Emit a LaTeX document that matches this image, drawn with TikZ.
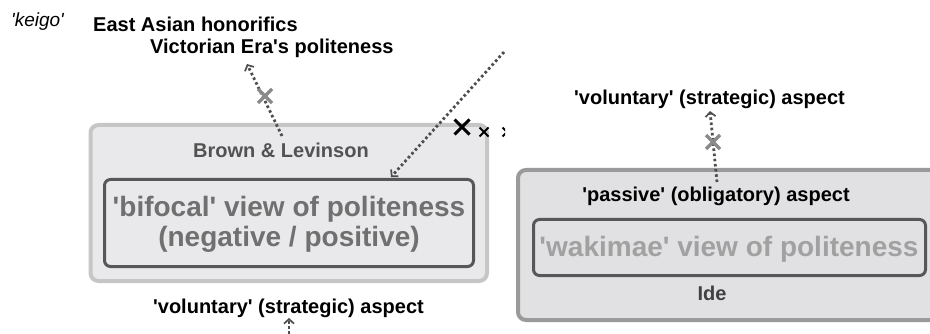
\documentclass[tikz,border=0pt]{standalone}
\usepackage{fontspec}
\setmainfont{Liberation Sans}
\usetikzlibrary{arrows.meta}

\definecolor{leftfill}{HTML}{E9E9EB}
\definecolor{leftline}{HTML}{C6C6C6}
\definecolor{rightfill}{HTML}{E1E1E3}
\definecolor{rightline}{HTML}{9A9A9A}
\definecolor{innerline}{HTML}{575757}
\definecolor{dotgray}{HTML}{4E4E4E}
\definecolor{crossgray}{HTML}{8A8A8A}
\newcommand\q{\textquotesingle}

\begin{document}
\begin{tikzpicture}[x=1pt,y=-1pt,
  outerbox/.style={draw,line width=4pt,rounded corners=8pt,inner sep=0pt},
  innerbox/.style={draw=innerline,line width=3pt,rounded corners=6pt,inner sep=0pt},
  tag/.style={font=\fontsize{20}{24}\selectfont\bfseries,inner sep=0pt,anchor=base},
  bigtag/.style={font=\fontsize{28}{30}\selectfont\bfseries,align=center,inner sep=0pt},
  dots/.style={draw=dotgray,line width=2.8pt,dash pattern=on 2.6pt off 2.6pt,
    -{Straight Barb[length=4.5pt,width=10pt,line width=1.7pt]}},
  graycross/.style={draw=crossgray,line width=3.5pt},
  blackcross/.style={draw=black,line width=3pt}
]
  \useasboundingbox (0,0) rectangle (930,334);
  \clip (0,0) rectangle (930,334);

  % Brown & Levinson side
  \node[outerbox,draw=leftline,fill=leftfill,minimum width=396.5pt,minimum height=156pt] (bl) at (288.75,203) {};
  \node[innerbox,minimum width=369pt,minimum height=87pt] (bifocal) at (289,223) {};
  \node[bigtag,text=black!56] (bifocaltxt) at (289,224.5) {\q bifocal\q{} view of politeness\\(negative / positive)};
  \node[tag,text=black!68] (brown) at (281,158) {Brown \& Levinson};
  \node[tag] (volleft) at (288.5,313) {\q voluntary\q{} (strategic) aspect};

  % Ide side
  \node[outerbox,draw=rightline,fill=rightfill,minimum width=462pt,minimum height=150pt] (ide) at (749,245) {};
  \node[innerbox,minimum width=392pt,minimum height=56pt] (wakimae) at (729.5,247.5) {};
  \node[tag,font=\fontsize{28}{30}\selectfont\bfseries,text=black!37] (wakimaetxt) at (729,257) {\q wakimae\q{} view of politeness};
  \node[tag] (passive) at (716,202) {\q passive\q{} (obligatory) aspect};
  \node[tag,text=black!75] (idetxt) at (712,300) {Ide};
  \node[tag] (volright) at (709.5,105) {\q voluntary\q{} (strategic) aspect};

  % top left labels
  \node[tag,font=\fontsize{19}{20}\selectfont\itshape] (keigo) at (37.5,27) {\q keigo\q};
  \node[tag,anchor=base west] (eastasia) at (93,32) {East Asian honorifics};
  \node[tag,anchor=base west] (victorian) at (150,54) {Victorian Era\q s politeness};

  \coordinate (vicend) at (247,64);
  \coordinate (brownstart) at (282,136);
  \coordinate (farstart) at (504,52);
  \coordinate (bifocaltop) at (391,177);
  \coordinate (passivestart) at (717,182);
  \coordinate (volrightend) at (710,111);
  \coordinate (bottomstart) at (289,334);
  \coordinate (volleftend) at (289,318);

  \draw[dots] (brownstart) -- (vicend);
  \draw[dots] (passivestart) -- (volrightend);
  \draw[dots] (bottomstart) -- (volleftend);
  \begin{scope}
    \clip (0,0) rectangle (505,334);
    \draw[dots] (farstart) -- (bifocaltop);
    \draw[blackcross] (462,127) +(-7.5,-7.5) -- +(7.5,7.5) +(-7.5,7.5) -- +(7.5,-7.5);
    \draw[blackcross,line width=2pt] (484,132) +(-4.5,-4.5) -- +(4.5,4.5) +(-4.5,4.5) -- +(4.5,-4.5);
    \draw[blackcross,line width=2pt] (507,132) +(-4.5,-4.5) -- +(4.5,4.5) +(-4.5,4.5) -- +(4.5,-4.5);
  \end{scope}

  \draw[graycross] (265,96) +(-7,-7) -- +(7,7) +(-7,7) -- +(7,-7);
  \draw[graycross] (713,142) +(-7,-7) -- +(7,7) +(-7,7) -- +(7,-7);
\end{tikzpicture}
\end{document}
